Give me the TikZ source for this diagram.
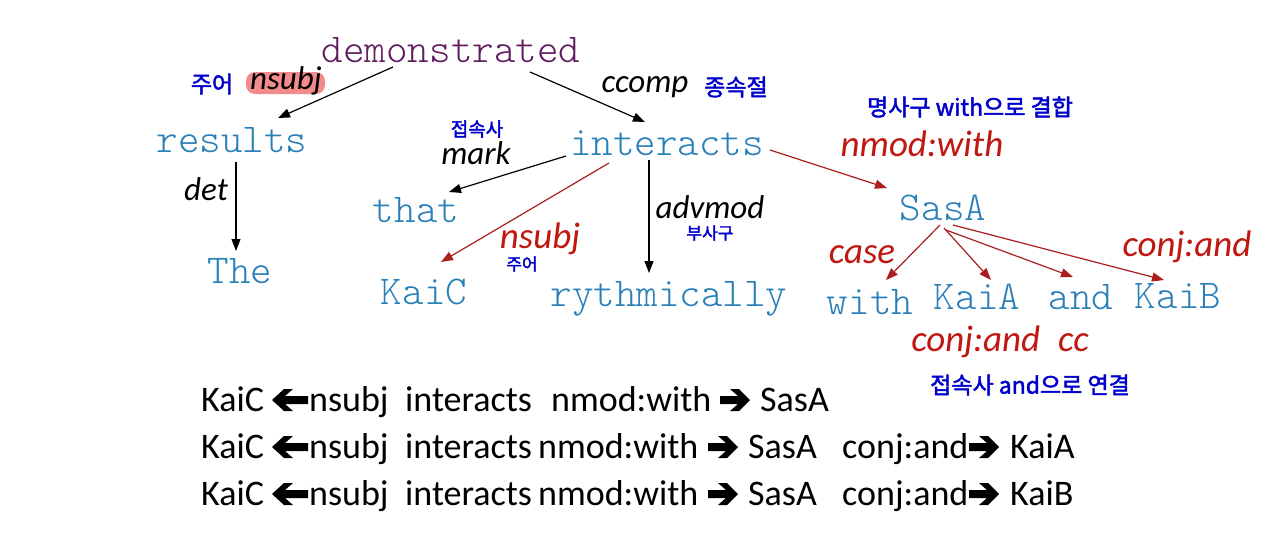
\documentclass[tikz,border=0pt]{standalone}
\usepackage{fontspec}
\setmainfont{Carlito}
\newfontfamily\mono{lmmonolt10-regular.otf}
\newfontfamily\kor[FakeBold=2]{Noto Sans CJK KR}
\usetikzlibrary{arrows.meta}
\definecolor{wordblue}{RGB}{41,128,185}
\definecolor{rootpurple}{RGB}{96,28,96}
\definecolor{labred}{RGB}{192,24,16}
\definecolor{linered}{RGB}{170,30,30}
\definecolor{korblue}{RGB}{0,0,205}
\definecolor{hlpink}{RGB}{240,120,120}
\tikzset{
  word/.style={font=\mono\fontsize{41}{44}\selectfont, text=wordblue, anchor=base, inner sep=0},
  lab/.style={font=\itshape\fontsize{33}{36}\selectfont, anchor=base, inner sep=0},
  rlab/.style={font=\itshape\fontsize{37}{40}\selectfont, text=labred, anchor=base, inner sep=0},
  kr/.style={font=\kor\fontsize{23}{26}\selectfont, text=korblue, inner sep=0},
  krs/.style={font=\kor\fontsize{17}{20}\selectfont, text=korblue, inner sep=0},
  btok/.style={font=\fontsize{36}{40}\selectfont, anchor=base west, inner sep=0},
  arr/.style={-{Triangle[length=12pt,width=9pt]}, line width=1.2pt},
  rarr/.style={arr, draw=linered, color=linered},
}
\newcommand{\drawlarrow}[2]{\fill[black, shift={(#1,#2)}] (0,0) -- (12,11) -- (21,11) -- (13,4) -- (36,4) -- (36,-4) -- (13,-4) -- (21,-11) -- (12,-11) -- cycle;}
\newcommand{\drawrarrow}[2]{\fill[black, shift={(#1,#2)}] (0,4) -- (18,4) -- (10,11) -- (19,11) -- (30,0) -- (19,-11) -- (10,-11) -- (18,-4) -- (0,-4) -- cycle;}
\begin{document}
\begin{tikzpicture}[x=1pt,y=1pt]
\useasboundingbox[fill=white] (0,0) rectangle (1280,-547);
% words
\node[word, text=rootpurple] (demonstrated) at (451,-62) {demonstrated};
\node[word] (results) at (232,-152) {results};
\node[word] (The) at (240,-283) {The};
\node[word] (interacts) at (667,-155) {interacts};
\node[word] (that) at (416,-222) {that};
\node[word] (KaiC) at (424,-304) {KaiC};
\node[word] (rythmically) at (669,-306) {rythmically};
\node[word] (SasA) at (943,-220) {SasA};
\node[word] (with) at (870,-314) {with};
\node[word] (KaiA) at (977,-309) {KaiA};
\node[word] (and) at (1081,-309) {and};
\node[word] (KaiB) at (1178,-308) {KaiB};
% highlight
\fill[hlpink, opacity=0.85, rounded corners=9pt] (246,-72) rectangle (325,-94);
% labels
\node[kr] (k1) at (212,-84) {주어};
\node[lab] (l1) at (286,-89) {nsubj};
\node[lab] (l2) at (645,-92) {ccomp};
\node[kr] (k2) at (736,-87) {종속절};
\node[krs, font=\kor\fontsize{19}{22}\selectfont] (k3) at (477,-129) {접속사};
\node[lab] (l3) at (476,-164) {mark};
\node[lab] (l4) at (206,-200) {det};
\node[rlab] (l5) at (540,-248) {nsubj};
\node[krs] (k4) at (522,-264) {주어};
\node[lab] (l6) at (710,-218) {advmod};
\node[krs] (k5) at (710,-233) {부사구};
\node[kr] (k6) at (970,-107) {명사구 with으로 결합};
\node[rlab] (l7) at (922,-156) {nmod:with};
\node[rlab] (l8) at (862,-263) {case};
\node[rlab] (l9) at (1187,-256) {conj:and};
\node[rlab] (l10) at (1000,-351) {conj:and\hspace{18pt}cc};
\node[kr] (k7) at (1030,-385) {접속사 and으로 연결};
% arrows
\draw[arr] ([shift={(-58,-5)}]demonstrated.base) -- ([shift={(46,34)}]results.base);
\draw[arr] ([shift={(79,-10)}]demonstrated.base) -- ([shift={(-22,33)}]interacts.base);
\draw[arr] ([shift={(4,-10)}]results.base) -- ([shift={(-4,32)}]The.base);
\draw[arr] ([shift={(-101,-1)}]interacts.base) -- ([shift={(33,30)}]that.base);
\draw[rarr] ([shift={(-58,-8)}]interacts.base) -- ([shift={(17,42)}]KaiC.base);
\draw[arr] ([shift={(-18,-5)}]interacts.base) -- ([shift={(-20,33)}]rythmically.base);
\draw[rarr] ([shift={(103,5)}]interacts.base) -- ([shift={(-56,32)}]SasA.base);
\draw[rarr] ([shift={(-3,-5)}]SasA.base) -- ([shift={(16,34)}]with.base);
\draw[rarr] ([shift={(1,-8)}]SasA.base) -- ([shift={(14,29)}]KaiA.base);
\draw[rarr] ([shift={(3,-10)}]SasA.base) -- ([shift={(-8,32)}]and.base);
\draw[rarr] ([shift={(10,-5)}]SasA.base) -- ([shift={(-14,28)}]KaiB.base);
% bottom line 1
\node[btok] (a1) at (201,-411) {KaiC};
\drawlarrow{272}{-400}
\node[btok] (a2) at (309,-411) {nsubj};
\node[btok] (a3) at (405,-411) {interacts};
\node[btok] (a4) at (551,-411) {nmod:with};
\drawrarrow{720}{-400}
\node[btok] (a5) at (760,-411) {SasA};
% bottom line 2
\node[btok] (c1) at (201,-458) {KaiC};
\drawlarrow{272}{-447}
\node[btok] (c2) at (309,-458) {nsubj};
\node[btok] (c3) at (405,-458) {interacts};
\node[btok] (c4) at (538,-458) {nmod:with};
\drawrarrow{708}{-447}
\node[btok] (c5) at (748,-458) {SasA};
\node[btok] (c6) at (842,-458) {conj:and};
\drawrarrow{969}{-447}
\node[btok] (c7) at (1010,-458) {KaiA};
% bottom line 3
\node[btok] (d1) at (201,-505) {KaiC};
\drawlarrow{272}{-494}
\node[btok] (d2) at (309,-505) {nsubj};
\node[btok] (d3) at (405,-505) {interacts};
\node[btok] (d4) at (538,-505) {nmod:with};
\drawrarrow{708}{-494}
\node[btok] (d5) at (748,-505) {SasA};
\node[btok] (d6) at (842,-505) {conj:and};
\drawrarrow{969}{-494}
\node[btok] (d7) at (1010,-505) {KaiB};
\end{tikzpicture}
\end{document}
